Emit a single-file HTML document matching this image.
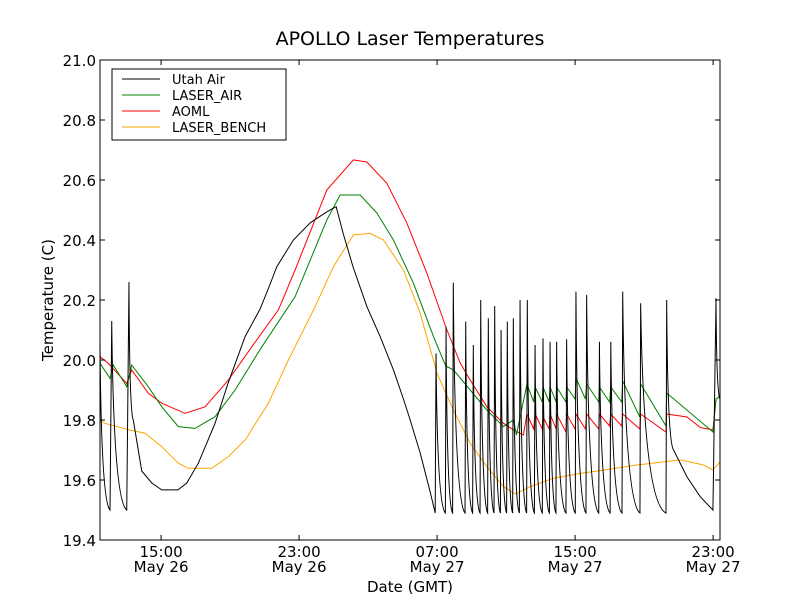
<!DOCTYPE html>
<html><head><meta charset="utf-8"><style>
body{margin:0;background:#fff;}
svg text{font-family:"DejaVu Sans","Liberation Sans",sans-serif;}
</style></head><body>
<svg id="c" width="800" height="600" xmlns="http://www.w3.org/2000/svg">
<rect width="800" height="600" fill="#fff"/>
<text x="410" y="45" font-size="19" text-anchor="middle">APOLLO Laser Temperatures</text>
<text x="410" y="592" font-size="15" text-anchor="middle">Date (GMT)</text>
<text transform="translate(53,300) rotate(-90)" font-size="15" text-anchor="middle">Temperature (C)</text>
<g id="plot"></g>
<rect x="100" y="60" width="620" height="480" fill="none" stroke="#000" stroke-width="1"/>
<g>
<rect x="112" y="69" width="174" height="71" fill="#fff" stroke="#000"/>
<g><line x1="122" y1="79" x2="160" y2="79" stroke="#000"/><text x="172" y="84" font-size="13">Utah Air</text></g>
<g><line x1="122" y1="95" x2="160" y2="95" stroke="green"/><text x="172" y="100" font-size="13">LASER_AIR</text></g>
<g><line x1="122" y1="111" x2="160" y2="111" stroke="red"/><text x="172" y="116" font-size="13">AOML</text></g>
<g><line x1="122" y1="127" x2="160" y2="127" stroke="orange"/><text x="172" y="132" font-size="13">LASER_BENCH</text></g>
</g>
</svg>
<script>
// hours since May 26 00:00
const xTicks=[15,23,31,39,47];
const xTickTime=["15:00","23:00","07:00","15:00","23:00"];
const xTickDate=["May 26","May 26","May 27","May 27","May 27"];
const yTicks=[19.4,19.6,19.8,20.0,20.2,20.4,20.6,20.8,21.0];
const airT=[11.46,12.04,12.14,13.01,13.14,13.39,13.88,14.46,15.04,15.98,16.49,17.16,18.13,18.88,19.87,20.74,21.3,21.71,22.67,23.64,24.61,25.15,25.55,26.13,26.93,27.70,28.47,29.05,29.44,30.02,30.6,30.89,
30.94,31.48,31.52,31.90,31.94,32.62,32.66,33.06,33.10,33.49,33.53,33.93,33.97,34.30,34.34,34.67,34.71,35.03,35.07,35.38,35.42,35.77,35.81,36.19,36.23,36.64,36.68,37.10,37.14,37.51,37.55,37.89,37.93,38.47,38.51,39.01,39.05,39.63,39.67,40.37,40.41,41.03,41.07,41.72,41.76,42.76,42.80,44.27,44.31,44.71,45.49,46.26,46.99,47.17,47.40];
const airV=[20.06,19.50,20.13,19.50,20.26,19.80,19.63,19.59,19.567,19.567,19.59,19.656,19.789,19.922,20.078,20.17,20.25,20.311,20.40,20.457,20.494,20.511,20.423,20.31,20.178,20.078,19.967,19.87,19.80,19.69,19.56,19.49,
20.022,19.49,20.111,19.49,20.258,19.49,20.128,19.49,20.05,19.49,20.20,19.49,20.139,19.49,20.18,19.49,20.10,19.49,20.128,19.49,20.139,19.49,20.20,19.49,20.20,19.49,20.05,19.49,20.072,19.49,20.061,19.49,20.061,19.49,20.069,19.49,20.228,19.49,20.217,19.49,20.061,19.49,20.061,19.49,20.228,19.49,20.189,19.49,20.20,19.70,19.61,19.544,19.50,20.206,19.87];
const aomlT=[11.46,11.94,13.01,13.30,14.26,15.04,16.39,17.55,18.90,20.26,21.80,22.77,24.61,26.15,26.93,28.09,29.25,30.41,31.57,32.34,32.92,33.89,34.85,35.43,36.0,36.21,36.6,36.68,37.1,37.14,37.5,37.55,37.9,37.93,38.47,38.51,39.0,39.05,39.6,39.67,40.37,40.41,41.0,41.07,41.7,41.76,42.75,42.80,44.27,44.31,45.49,46.26,46.99,47.17,47.40];
const aomlV=[20.011,19.989,19.922,19.967,19.889,19.856,19.822,19.844,19.933,20.044,20.167,20.30,20.567,20.667,20.66,20.589,20.456,20.289,20.10,19.99,19.933,19.844,19.789,19.767,19.75,19.82,19.77,19.82,19.77,19.81,19.77,19.82,19.77,19.82,19.76,19.82,19.77,19.82,19.77,19.82,19.77,19.82,19.78,19.82,19.78,19.82,19.77,19.82,19.76,19.82,19.81,19.775,19.767,19.87,19.88];
const laserAirT=[11.46,12.04,12.23,13.01,13.30,14.26,15.04,16.00,16.97,18.13,19.29,20.84,22.77,24.61,25.38,26.54,27.51,28.47,29.63,30.79,31.5,31.95,32.92,33.89,34.85,35.43,35.6,36.21,36.6,36.68,37.1,37.14,37.5,37.55,37.9,37.93,38.47,38.51,39.0,39.05,39.6,39.67,40.37,40.41,41.0,41.07,41.7,41.76,42.75,42.80,44.27,44.31,46.99,47.17,47.40];
const laserAirV=[19.989,19.939,19.983,19.911,19.983,19.911,19.844,19.778,19.772,19.811,19.90,20.044,20.211,20.467,20.55,20.55,20.49,20.40,20.256,20.078,19.98,19.967,19.90,19.833,19.778,19.80,19.75,19.92,19.86,19.91,19.86,19.91,19.86,19.91,19.86,19.91,19.86,19.91,19.87,19.94,19.87,19.92,19.86,19.91,19.86,19.91,19.86,19.93,19.81,19.92,19.78,19.89,19.76,19.87,19.88];
const benchT=[11.46,11.75,13.14,14.07,15.04,16.00,16.58,17.94,18.90,19.87,21.22,22.38,23.93,24.99,26.15,27.12,27.89,29.05,30.02,30.89,30.99,31.95,32.92,33.89,34.85,35.53,36.40,37.75,39.30,40.65,42.59,45.10,46.45,46.99,47.40];
const benchV=[19.80,19.789,19.767,19.756,19.711,19.656,19.639,19.639,19.678,19.733,19.856,20.0,20.178,20.311,20.417,20.422,20.40,20.30,20.156,19.978,19.956,19.833,19.722,19.644,19.578,19.553,19.578,19.606,19.622,19.633,19.65,19.667,19.65,19.633,19.66];

const X0=100,X1=720,Y0=540,Y1=60,TMIN=11.46,TMAX=47.40,VMIN=19.4,VMAX=21.0;
const sx=t=>X0+(t-TMIN)/(TMAX-TMIN)*(X1-X0);
const sy=v=>Y0-(v-VMIN)/(VMAX-VMIN)*(Y0-Y1);
const NS="http://www.w3.org/2000/svg";
const plot=document.getElementById('plot');
function mk(tag,attrs){const e=document.createElementNS(NS,tag);for(const k in attrs)e.setAttribute(k,attrs[k]);return e;}

function linePath(T,V,curvy){
  let d="M"+sx(T[0]).toFixed(2)+","+sy(V[0]).toFixed(2);
  for(let i=1;i<T.length;i++){
    const x=sx(T[i]),y=sy(V[i]);
    if(curvy && V[i-1]-V[i]>0.3){
      const px=sx(T[i-1]),py=sy(V[i-1]);
      const cx=px+(x-px)*0.12,cy=y-(y-py)*0.05;
      d+=" Q"+cx.toFixed(2)+","+cy.toFixed(2)+" "+x.toFixed(2)+","+y.toFixed(2);
    } else d+=" L"+x.toFixed(2)+","+y.toFixed(2);
  }
  return d;
}
const series=[[benchT,benchV,"orange","series-laser-bench",false],[aomlT,aomlV,"red","series-aoml",false],[laserAirT,laserAirV,"green","series-laser-air",false],[airT,airV,"#000","series-utah-air",true]];
const clip=mk('clipPath',{id:'cp'});clip.appendChild(mk('rect',{x:X0,y:Y1,width:X1-X0,height:Y0-Y1}));
document.getElementById('c').prepend(clip);
series.forEach(s=>{
  const p=mk('path',{d:linePath(s[0],s[1],s[4]),fill:'none',stroke:s[2],'stroke-width':1,'clip-path':'url(#cp)'});
  
  
  plot.appendChild(p);
});
const svg=document.getElementById('c');
yTicks.forEach(v=>{
  const y=sy(v);
  svg.appendChild(mk('line',{x1:X0,y1:y,x2:X0+5,y2:y,stroke:'#000'}));
  svg.appendChild(mk('line',{x1:X1,y1:y,x2:X1-5,y2:y,stroke:'#000'}));
  const t=mk('text',{x:X0-4,y:y+6,'font-size':15,'text-anchor':'end'});
  t.textContent=v.toFixed(1);
  
  
  svg.appendChild(t);
});
xTicks.forEach((h,i)=>{
  const x=sx(h);
  svg.appendChild(mk('line',{x1:x,y1:Y0,x2:x,y2:Y0-5,stroke:'#000'}));
  svg.appendChild(mk('line',{x1:x,y1:Y1,x2:x,y2:Y1+5,stroke:'#000'}));
  const t=mk('text',{x:x,y:Y0+17,'font-size':15,'text-anchor':'middle'});
  t.textContent=xTickTime[i];
  
  
  svg.appendChild(t);
  const t2=mk('text',{x:x,y:Y0+32,'font-size':15,'text-anchor':'middle'});
  t2.textContent=xTickDate[i];
  
  
  svg.appendChild(t2);
});
</script>
</body></html>
